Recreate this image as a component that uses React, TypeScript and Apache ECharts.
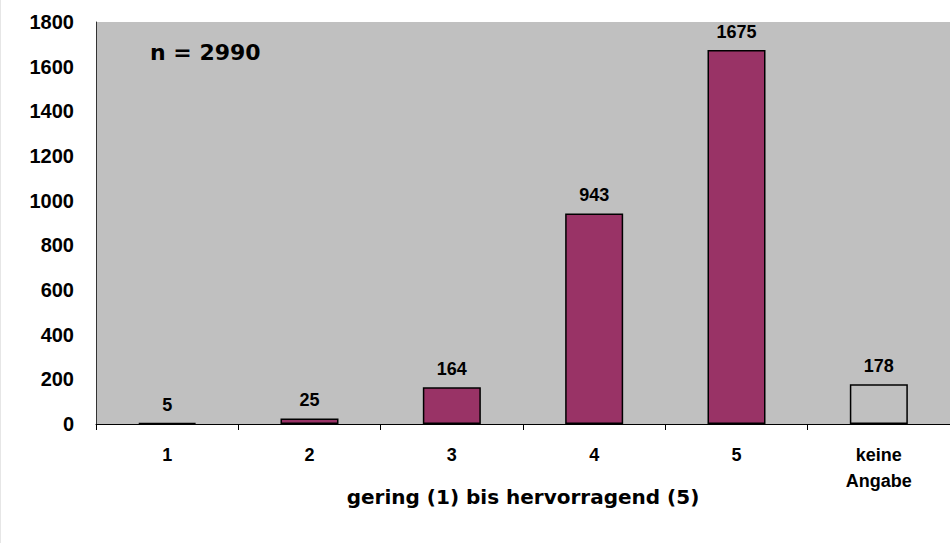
import React, { useEffect, useRef } from "react";
import * as echarts from "echarts";

const categories = ["1", "2", "3", "4", "5", "keine\nAngabe"];
const values = [5, 25, 164, 943, 1675, 178];
const yTicks = [0, 200, 400, 600, 800, 1000, 1200, 1400, 1600, 1800];
const sampleLabel = "n = 2990";
const xAxisTitle = "gering (1) bis hervorragend (5)";

export default function App() {
  const ref = useRef<HTMLDivElement>(null);
  useEffect(() => {
    document.body.style.margin = "0";
    const chart = echarts.init(ref.current!, undefined, { renderer: "svg" });
    const font = "Liberation Sans, Arial, sans-serif";
    const wide = "DejaVu Sans, sans-serif";
    chart.setOption({
      animation: false,
      backgroundColor: "#ffffff",
      textStyle: { fontFamily: font },
      grid: {
        left: 96,
        right: 0,
        top: 22,
        bottom: 119,
        show: true,
        backgroundColor: "#C0C0C0",
        borderWidth: 0,
      },
      xAxis: {
        type: "category",
        data: categories,
        name: xAxisTitle,
        nameLocation: "middle",
        nameGap: 73,
        nameMoveOverlap: false,
        nameTextStyle: {
          fontSize: 20,
          fontWeight: "bold",
          color: "#000",
          fontFamily: wide,
          verticalAlign: "middle",
        },
        axisLine: { lineStyle: { color: "#000", width: 1 } },
        axisTick: { show: true, length: 6, lineStyle: { color: "#000" } },
        axisLabel: {
          fontSize: 18,
          fontWeight: "bold",
          color: "#000",
          margin: 18,
          lineHeight: 26,
          fontFamily: font,
        },
      },
      yAxis: {
        type: "value",
        min: 0,
        max: yTicks[yTicks.length - 1],
        interval: 200,
        axisLine: { show: true, lineStyle: { color: "#333", width: 1 } },
        axisTick: { show: false },
        splitLine: { show: false },
        axisLabel: {
          fontSize: 20,
          fontWeight: "bold",
          color: "#000",
          margin: 22,
          fontFamily: font,
          formatter: (v: number) => String(v),
        },
      },
      series: [
        {
          type: "bar",
          data: values.map((v, i) => ({
            value: v,
            itemStyle: {
              color: i === values.length - 1 ? "rgba(0,0,0,0)" : "#993366",
              borderColor: "#000",
              borderWidth: 1.5,
            },
          })),
          barWidth: 58,
          label: {
            show: true,
            position: "top",
            distance: 9,
            fontSize: 18,
            fontWeight: "bold",
            color: "#000",
            fontFamily: font,
          },
        },
      ],
      graphic: [
        {
          type: "text",
          left: 150,
          top: 41,
          style: {
            text: sampleLabel,
            font: `bold 22px ${wide}`,
            fill: "#000",
          },
        },
        {
          type: "line",
          shape: { x1: 0.5, y1: 0, x2: 0.5, y2: 543 },
          style: { stroke: "#e6e6e6", lineWidth: 1 },
        },
      ],
    });
    return () => chart.dispose();
  }, []);
  return (
    <div
      ref={ref}
      style={{ position: "absolute", left: 0, top: 0, width: 950, height: 543 }}
    />
  );
}
